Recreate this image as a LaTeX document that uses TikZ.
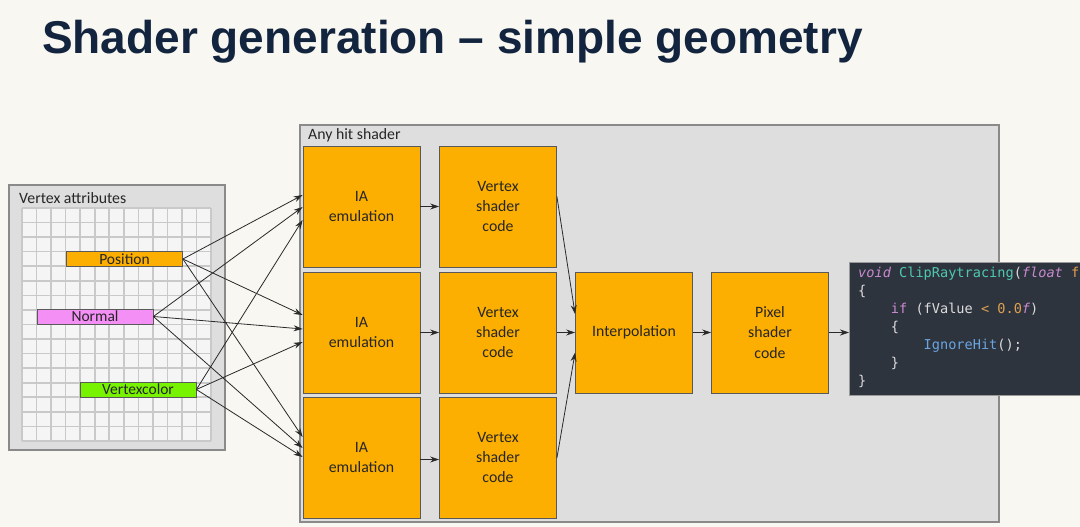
\documentclass[tikz,border=0pt]{standalone}
\usepackage{fontspec}
\setmainfont{Carlito}
\newfontfamily\titlefont{Liberation Sans}
\newfontfamily\codefont{DejaVu Sans Mono}
\usetikzlibrary{arrows.meta,calc}
\definecolor{bgc}{HTML}{F8F7F1}
\definecolor{titlec}{HTML}{13243F}
\definecolor{orangec}{HTML}{FCAF00}
\definecolor{panelc}{HTML}{DEDEDE}
\definecolor{panelb}{HTML}{8A8A8A}
\definecolor{cellc}{HTML}{F5F5F5}
\definecolor{gridc}{HTML}{C9C9C9}
\definecolor{pinkc}{HTML}{F490F5}
\definecolor{greenc}{HTML}{77F200}
\definecolor{codebg}{HTML}{2E343E}
\definecolor{codew}{HTML}{DCDCDC}
\definecolor{codep}{HTML}{C98AD0}
\definecolor{codet}{HTML}{4EC9B0}
\definecolor{codeo}{HTML}{E0A050}
\definecolor{codeb}{HTML}{6AA5E0}
\definecolor{linec}{HTML}{2A2A2A}
\tikzset{
  panel/.style={draw=panelb, line width=1.2pt, fill=panelc},
  block/.style={draw=black!65, line width=0.8pt, fill=orangec, inner sep=0pt,
    minimum width=117pt, minimum height=121pt, align=center,
    font=\fontsize{15.8}{20.2}\selectfont, text=black!85},
  attr/.style={draw=black!65, line width=0.8pt, inner sep=0pt,
    minimum width=116pt, minimum height=15pt, font=\fontsize{15.5}{16}\selectfont, text=black!85},
  plabel/.style={anchor=west, inner sep=0pt, font=\fontsize{15.8}{18}\selectfont, text=black!85},
  arr/.style={draw=linec, line width=0.8pt, -{Stealth[length=9pt,width=6pt]}},
  codeline/.style={anchor=base west, inner sep=0pt, font=\codefont\fontsize{13.6}{16}\selectfont, text=codew},
}
\begin{document}
\begin{tikzpicture}[x=1pt,y=-1pt]
\useasboundingbox (0,0) rectangle (1080,527);
\fill[bgc] (0,0) rectangle (1080,527);
% title
\node[anchor=base west, inner sep=0pt, text=titlec, font=\titlefont\bfseries\fontsize{46}{50}\selectfont] (title) at (42,54) {Shader generation – simple geometry};
% Vertex attributes panel
\draw[panel] (9,185) rectangle (225,450);
\node[plabel] (valabel) at (19,198) {Vertex attributes};
\fill[cellc] (22,208) rectangle (211,441);
\foreach \i in {0,...,13} { \draw[gridc, line width=1.6pt] ({22+\i*14.54},208) -- ({22+\i*14.54},441); }
\foreach \j in {0,...,16} { \draw[gridc, line width=1.6pt] (22,{208+\j*14.56}) -- (211,{208+\j*14.56}); }
\node[attr, fill=orangec] (pos) at (124.5,259) {Position};
\node[attr, fill=pinkc] (nor) at (95,316.5) {Normal};
\node[attr, fill=greenc] (vc) at (138,389.5) {Vertexcolor};
% Any hit shader panel
\draw[panel] (300,125) rectangle (999,522);
\node[plabel] (ahlabel) at (308,135) {Any hit shader};
% blocks
\node[block] (ia1) at (361.5,206.5) {IA\\emulation};
\node[block] (ia2) at (361.5,332.5) {IA\\emulation};
\node[block] (ia3) at (361.5,457.5) {IA\\emulation};
\node[block] (vs1) at (498,206.5) {Vertex\\shader\\code};
\node[block] (vs2) at (498,332.5) {Vertex\\shader\\code};
\node[block] (vs3) at (498,457.5) {Vertex\\shader\\code};
\node[block] (ip) at (634,332.5) {Interpolation};
\node[block] (ps) at (770,332.5) {Pixel\\shader\\code};
% code box
\begin{scope}
\clip (0,0) rectangle (1080,527);
\node[draw=black!40, line width=0.6pt, fill=codebg, anchor=north west, minimum width=240pt, minimum height=133pt, inner sep=0pt] (code) at (849,262) {};
\node[codeline] (c1) at (858,277) {\textcolor{codep}{\itshape void} \textcolor{codet}{ClipRaytracing}(\textcolor{codep}{\itshape float} \textcolor{codeo}{f}};
\node[codeline] (c2) at (858,295) {\{};
\node[codeline] (c3) at (858,313.5) {\hphantom{xxxx}\textcolor{codep}{if} (fValue \textcolor{codeo}{<} \textcolor{codeo}{0.0}\textcolor{codep}{\itshape f})};
\node[codeline] (c4) at (858,331) {\hphantom{xxxx}\{};
\node[codeline] (c5) at (858,349.5) {\hphantom{xxxxxxxx}\textcolor{codeb}{IgnoreHit}();};
\node[codeline] (c6) at (858,367) {\hphantom{xxxx}\}};
\node[codeline] (c7) at (858,385) {\}};
\end{scope}
% connectors attributes -> IA
\draw[arr] (pos.east) -- ($(ia1.west)+(0,-11.5)$);
\draw[arr] (nor.east) -- ($(ia1.west)+(0,0.5)$);
\draw[arr] (vc.east) -- ($(ia1.west)+(0,13.5)$);
\draw[arr] (pos.east) -- ($(ia2.west)+(0,-17.5)$);
\draw[arr] (nor.east) -- ($(ia2.west)+(0,-3.5)$);
\draw[arr] (vc.east) -- ($(ia2.west)+(0,9.5)$);
\draw[arr] (pos.east) -- ($(ia3.west)+(0,-20.5)$);
\draw[arr] (nor.east) -- ($(ia3.west)+(0,-9.5)$);
\draw[arr] (vc.east) -- ($(ia3.west)+(0,-0.5)$);
% IA -> VS
\draw[arr] (ia1.east) -- (vs1.west);
\draw[arr] (ia2.east) -- (vs2.west);
\draw[arr] ($(ia3.east)+(0,2)$) -- ($(vs3.west)+(0,2)$);
% VS -> Interpolation
\draw[arr] ($(vs1.east)+(0,-10)$) -- ($(ip.west)+(0,-18.5)$);
\draw[arr] (vs2.east) -- (ip.west);
\draw[arr] ($(vs3.east)+(0,0.5)$) -- ($(ip.west)+(0,20)$);
% Interpolation -> Pixel -> code
\draw[arr] (ip.east) -- (ps.west);
\draw[arr] (ps.east) -- (ps.east -| code.west);
\end{tikzpicture}
\end{document}
